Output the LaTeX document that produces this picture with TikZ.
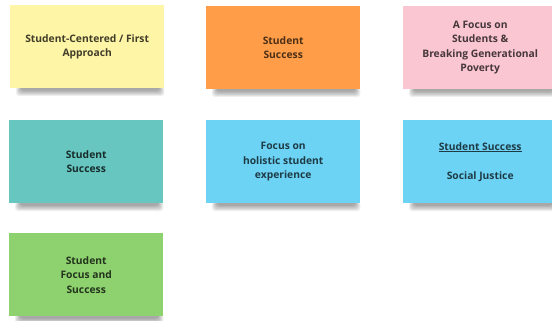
\documentclass[tikz,border=0pt]{standalone}
\usepackage{fontspec}
\setmainfont{Open Sans}
\usetikzlibrary{backgrounds}
\definecolor{cyellow}{HTML}{FFF5A6}
\definecolor{corange}{HTML}{FF9D48}
\definecolor{cpink}{HTML}{FAC6D2}
\definecolor{cteal}{HTML}{67C6C0}
\definecolor{cblue}{HTML}{6CD3F5}
\definecolor{cgreen}{HTML}{8ED16F}
\tikzset{
  sticky/.style={draw=none, minimum width=154pt, minimum height=83pt, inner sep=0pt,
    align=center, font=\fontsize{10.3}{14.5}\selectfont\bfseries, anchor=north west},
}
\newcommand{\stickyshadow}[1]{%
  \foreach \i in {1,...,6}{
    \fill[black, opacity=0.065, rounded corners=3pt]
      ([xshift={12pt-\i*1pt}, yshift={2pt}]#1.south west) rectangle
      ([xshift={-6pt+\i*1pt}, yshift={-1pt-\i*1.1pt}]#1.south east);
  }%
}
\begin{document}
\begin{tikzpicture}[x=1pt,y=-1pt]
\useasboundingbox (0,0) rectangle (552,321);
\clip (0,0) rectangle (552,321);
\node[sticky, fill=cyellow, text=cyellow!25!black] (n1) at (10,5) {Student-Centered / First\\Approach};
\node[sticky, fill=corange, text=corange!30!black] (n2) at (206,6) {Student\\Success};
\node[sticky, fill=cpink, text=cpink!28!black] (n3) at (403,6) {A Focus on\\Students \&\\Breaking Generational\\Poverty};
\node[sticky, fill=cteal, text=cteal!22!black] (n4) at (9,120) {Student\\Success};
\node[sticky, fill=cblue, text=cblue!28!black] (n5) at (206,120) {Focus on\\holistic student\\experience};
\node[sticky, fill=cblue, text=cblue!28!black] (n6) at (403,120) {\underline{Student Success}\\[14.5pt]Social Justice};
\node[sticky, fill=cgreen, text=cgreen!25!black] (n7) at (9,233) {Student\\Focus and\\Success};
\begin{scope}[on background layer]
\fill[white] (0,0) rectangle (552,321);
\foreach \n in {n1,n2,n3,n4,n5,n6,n7}{\stickyshadow{\n}}
\end{scope}
\end{tikzpicture}
\end{document}
